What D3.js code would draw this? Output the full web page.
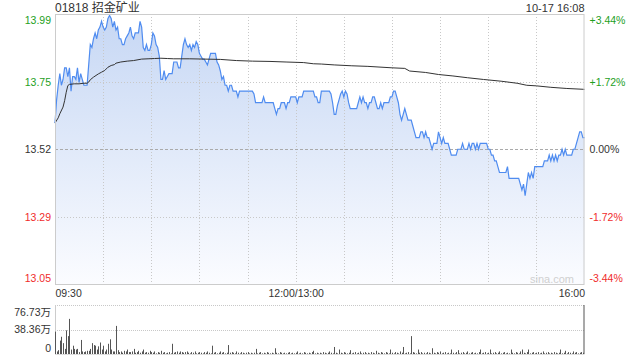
<!DOCTYPE html>
<html><head><meta charset="utf-8">
<script src="https://cdn.jsdelivr.net/npm/d3@7"></script>
<style>
html,body{margin:0;padding:0;background:#fff;}
svg{display:block;font-family:"Liberation Sans",Arial,"Noto Sans CJK SC",sans-serif;}
</style></head><body>
<svg id="c" width="640" height="360"></svg>
<script>
const title = "01818 招金矿业";
const stamp = "10-17 16:08";
const watermark = "sina.com";
const prevClose = 13.52;
const pctTicks = [3.44, 1.72, 0, -1.72, -3.44];
const priceTickLabels = ["13.99","13.75","13.52","13.29","13.05"];
const pctTickLabels = ["+3.44%","+1.72%","0.00%","-1.72%","-3.44%"];
const timeTicks = [0, 150, 330];
const timeLabels = ["09:30","12:00/13:00","16:00"];
const gridMinutes = [30,60,90,120,150,180,210,240,270,300];
const volTicks = [76.73, 38.36, 0];
const volTickLabels = ["76.73万","38.36万","0"];

// one price per minute, 09:30 .. 16:00 (lunch break removed)
const prices = [
13.61,13.69,13.74,13.78,13.74,13.76,13.80,13.80,13.77,13.80,
13.72,13.77,13.77,13.76,13.80,13.75,13.78,13.76,13.74,13.74,
13.74,13.81,13.88,13.87,13.90,13.92,13.90,13.93,13.94,13.96,
13.94,13.93,13.94,13.97,13.98,13.97,13.94,13.96,13.93,13.94,
13.90,13.90,13.88,13.88,13.90,13.91,13.92,13.94,13.91,13.90,
13.92,13.92,13.92,13.96,13.94,13.87,13.86,13.88,13.86,13.86,
13.88,13.92,13.91,13.88,13.87,13.84,13.76,13.76,13.79,13.76,
13.77,13.78,13.78,13.78,13.82,13.82,13.82,13.80,13.80,13.84,
13.88,13.90,13.88,13.87,13.88,13.86,13.88,13.87,13.89,13.88,
13.85,13.84,13.83,13.83,13.82,13.81,13.83,13.85,13.85,13.85,
13.85,13.82,13.81,13.79,13.76,13.77,13.74,13.74,13.72,13.74,
13.74,13.72,13.72,13.72,13.70,13.72,13.72,13.72,13.72,13.72,
13.72,13.72,13.72,13.72,13.71,13.68,13.68,13.68,13.68,13.68,
13.70,13.68,13.68,13.68,13.68,13.68,13.68,13.66,13.64,13.66,
13.66,13.68,13.68,13.68,13.66,13.68,13.68,13.70,13.70,13.70,
13.70,13.68,13.70,13.70,13.70,13.72,13.72,13.72,13.72,13.72,
13.72,13.72,13.70,13.70,13.68,13.68,13.72,13.72,13.72,13.72,
13.72,13.72,13.71,13.68,13.64,13.64,13.67,13.69,13.71,13.72,
13.70,13.72,13.71,13.68,13.66,13.66,13.66,13.66,13.66,13.68,
13.70,13.68,13.70,13.68,13.68,13.66,13.68,13.68,13.70,13.70,
13.68,13.66,13.66,13.68,13.66,13.68,13.68,13.68,13.68,13.70,
13.70,13.72,13.72,13.70,13.68,13.64,13.62,13.64,13.66,13.64,
13.62,13.62,13.62,13.60,13.58,13.56,13.56,13.56,13.58,13.58,
13.56,13.58,13.56,13.56,13.54,13.52,13.54,13.54,13.54,13.58,
13.56,13.54,13.56,13.54,13.54,13.54,13.52,13.50,13.50,13.50,
13.50,13.52,13.52,13.52,13.54,13.52,13.52,13.52,13.54,13.52,
13.54,13.54,13.52,13.54,13.52,13.54,13.54,13.54,13.54,13.54,
13.52,13.52,13.50,13.50,13.48,13.48,13.46,13.44,13.44,13.44,
13.44,13.44,13.46,13.42,13.42,13.42,13.42,13.42,13.42,13.42,
13.40,13.38,13.40,13.36,13.40,13.44,13.42,13.44,13.42,13.46,
13.46,13.46,13.46,13.46,13.46,13.48,13.48,13.48,13.50,13.48,
13.50,13.48,13.50,13.48,13.50,13.50,13.52,13.50,13.52,13.50,
13.50,13.50,13.50,13.52,13.52,13.54,13.56,13.58,13.58,13.56,
13.56];

// average price line, read at these minutes
const avgMinutes = [0,2,3,5,6,7,8,9,12,15,18,20,21,22,24,27,29,31,33,35,37,38,41,45,49,54,58,62,66,70,74,78,84,103,113,123,134,144,155,161,166,174,185,195,210,218,221,231,239,248,257,267,278,288,294,300,309,319,330];
const avgPrices = [13.61,13.628,13.642,13.665,13.687,13.716,13.739,13.743,13.745,13.745,13.747,13.747,13.751,13.759,13.768,13.779,13.785,13.791,13.802,13.808,13.811,13.816,13.820,13.823,13.825,13.830,13.831,13.832,13.833,13.832,13.831,13.831,13.831,13.829,13.825,13.823,13.822,13.820,13.818,13.814,13.813,13.810,13.807,13.805,13.800,13.798,13.789,13.784,13.777,13.772,13.766,13.760,13.754,13.747,13.740,13.738,13.733,13.729,13.726];

// volume per minute, in 万 shares
const volumes = [
35,4,6,21,27,17,8,37,28,55,7,13,8,7,8,3,22,4,3,4,5,5,8,17,14,13,7,12,18,7,13,4,7,16,23,7,4,4,44,6,3,4,2,5,4,7,3,3,4,8,
2,3,5,2,4,7,2,3,2,5,3,2,4,1,3,2,5,2,3,1,2,3,1,16,2,3,4,2,4,3,2,3,4,2,1,3,2,4,1,2,3,2,1,3,2,4,2,1,13,2,
3,1,2,4,2,3,1,2,14,2,3,2,1,4,2,1,3,2,1,2,3,1,2,1,2,8,1,2,3,1,2,1,3,2,1,2,1,9,2,1,3,2,1,2,1,2,3,1,2,1,
2,4,1,2,1,3,2,1,2,1,3,5,1,2,1,2,1,3,2,1,2,4,2,1,11,2,1,7,2,1,3,2,1,2,6,1,2,3,1,2,4,1,2,3,1,2,1,3,2,1,
5,2,1,3,2,1,3,2,1,7,2,1,3,2,1,4,2,11,1,2,3,1,28,3,2,1,7,2,3,1,2,1,3,2,1,9,2,1,3,2,4,1,2,3,1,2,1,7,2,1,
3,6,1,2,3,1,2,4,1,2,3,1,2,1,3,7,1,2,3,1,2,7,1,2,3,1,2,4,1,2,3,1,2,1,7,2,1,3,2,1,4,7,2,1,3,7,1,2,3,1,
2,3,1,2,4,1,2,3,1,2,1,3,2,1,2,7,1,2,5,1,3,2,1,4,2,3,1,2,3,2,76.73];

const UP = "#1ea01e", DOWN = "#f02c2c", TXT = "#333";
const L = 55, R = 584.5, T = 14, B = 284.5;
const VT = 305, VB = 354;

const svg = d3.select("#c");
const x = d3.scaleLinear().domain([0, 330]).range([L, R]);
const pct2price = p => prevClose * (1 + p / 100);
const y = d3.scaleLinear().domain([pct2price(-3.44), pct2price(3.44)]).range([B, T]);
const yv = d3.scaleLinear().domain([0, 76.73]).range([VB, VT]);
const priceTicks = pctTicks.map(pct2price);

// gradient
const defs = svg.append("defs");
const g = defs.append("linearGradient").attr("id","fillg").attr("gradientUnits","userSpaceOnUse")
  .attr("x1",0).attr("x2",0).attr("y1",T).attr("y2",B);
g.append("stop").attr("offset",0).attr("stop-color","#c6d7f4");
g.append("stop").attr("offset",1).attr("stop-color","#fbfcff");

// area + lines
const area = d3.area().x((d,i)=>x(i)).y0(B).y1(d=>y(d));
svg.append("path").datum(prices).attr("d", area).attr("fill","url(#fillg)");

// grid
svg.append("g").selectAll("line").data(gridMinutes).join("line")
  .attr("x1",d=>Math.round(x(d))+0.5).attr("x2",d=>Math.round(x(d))+0.5)
  .attr("y1",T).attr("y2",B).attr("stroke","#c8c8c8").attr("stroke-dasharray","1,2");
svg.append("g").selectAll("line").data(priceTicks.slice(1,4)).join("line")
  .attr("x1",L).attr("x2",R)
  .attr("y1",d=>Math.round(y(d))+0.5).attr("y2",d=>Math.round(y(d))+0.5)
  .attr("stroke",(d,i)=> i===1 ? "#aaa" : "#c8c8c8")
  .attr("stroke-dasharray",(d,i)=> i===1 ? "3,2" : "1,2");

svg.append("path").datum(prices)
  .attr("d", d3.line().x((d,i)=>x(i)).y(d=>y(d)))
  .attr("fill","none").attr("stroke","#4f8cf0").attr("stroke-width",1.2);
svg.append("path").datum(avgMinutes)
  .attr("d", d3.line().x(d=>x(d)).y((d,i)=>y(avgPrices[i])))
  .attr("fill","none").attr("stroke","#333").attr("stroke-width",1);

// border
svg.append("rect").attr("x",L+0.5).attr("y",T+0.5).attr("width",R-L-1).attr("height",B-T-0.5)
  .attr("fill","none").attr("stroke","#ccc");

// left price axis
const colorFor = i => i < 2 ? UP : (i === 2 ? TXT : DOWN);
const shift = i => i === 0 ? 6 : (i === 4 ? -6.5 : 0);
const ax = svg.append("g").attr("transform",`translate(${L-4},0)`)
  .call(d3.axisLeft(y).tickValues(priceTicks).tickSize(0).tickPadding(0).tickFormat((d,i)=>priceTickLabels[i]));
ax.select(".domain").remove();
ax.selectAll("text").attr("fill",(d,i)=>colorFor(i)).attr("font-size","10.5px")
  .attr("font-family","Liberation Sans, Arial, sans-serif")
  .attr("transform",(d,i)=>`translate(0,${shift(i)})`);

const axr = svg.append("g").attr("transform",`translate(${R+5},0)`)
  .call(d3.axisRight(y).tickValues(priceTicks).tickSize(0).tickPadding(0).tickFormat((d,i)=>pctTickLabels[i]));
axr.select(".domain").remove();
axr.selectAll("text").attr("fill",(d,i)=>colorFor(i)).attr("font-size","10.5px")
  .attr("font-family","Liberation Sans, Arial, sans-serif")
  .attr("transform",(d,i)=>`translate(0,${shift(i)})`);

// time axis
const axb = svg.append("g").attr("transform",`translate(0,${B+1})`)
  .call(d3.axisBottom(x).tickValues(timeTicks).tickSize(0).tickPadding(4).tickFormat((d,i)=>timeLabels[i]));
axb.select(".domain").remove();
axb.selectAll("text").attr("fill",TXT).attr("font-size","10.5px")
  .attr("font-family","Liberation Sans, Arial, sans-serif")
  .attr("text-anchor",(d,i)=> i===0 ? "start" : (i===2 ? "end" : "middle"));

// title + stamp + watermark
svg.append("text").attr("x",L).attr("y",12).attr("fill",TXT).attr("font-size","12px").text(title);
svg.append("text").attr("x",R).attr("y",12).attr("fill",TXT).attr("font-size","11px")
  .attr("text-anchor","end").text(stamp);
svg.append("text").attr("x",574).attr("y",283).attr("fill","#d0d0d0").attr("font-size","11px")
  .attr("text-anchor","end").text(watermark);

// volume panel
svg.append("g").selectAll("line").data(volTicks.slice(0,2)).join("line")
  .attr("x1",L).attr("x2",R).attr("y1",d=>Math.round(yv(d))+0.5).attr("y2",d=>Math.round(yv(d))+0.5)
  .attr("stroke","#c8c8c8").attr("stroke-dasharray","1,1");
svg.append("line").attr("x1",L+0.5).attr("x2",L+0.5).attr("y1",VT).attr("y2",VB).attr("stroke","#ccc");
svg.append("line").attr("x1",L).attr("x2",R).attr("y1",VB+0.5).attr("y2",VB+0.5).attr("stroke","#ddd");
svg.append("g").selectAll("rect").data(volumes).join("rect")
  .attr("x",(d,i)=>Math.min(Math.round(x(i)), R-1)).attr("width",1)
  .attr("y",d=>yv(d)).attr("height",d=>VB-yv(d)).attr("fill","#555");

const vshift = i => i === 0 ? 7 : (i === 2 ? -6 : 0);
const axv = svg.append("g").attr("transform",`translate(${L-4},0)`)
  .call(d3.axisLeft(yv).tickValues(volTicks).tickSize(0).tickPadding(0).tickFormat((d,i)=>volTickLabels[i]));
axv.select(".domain").remove();
axv.selectAll("text").attr("fill",TXT).attr("font-size","10.5px")
  .attr("font-family","Liberation Sans, Arial, Noto Sans CJK SC, sans-serif")
  .attr("transform",(d,i)=>`translate(0,${vshift(i)})`);
</script></body></html>
